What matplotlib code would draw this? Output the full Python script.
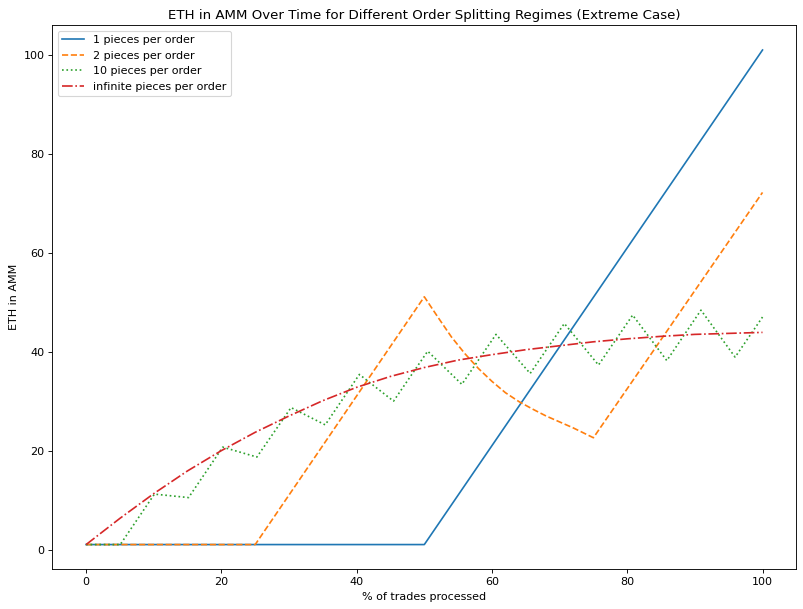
import matplotlib
matplotlib.use("Agg")
import matplotlib.pyplot as plt

# % of trades processed vs ETH held by the AMM
x_one = [0, 50, 100]
eth_one = [1, 1, 101]

x_two = [0, 25, 50, 52, 54, 56, 58, 60, 62, 64, 66, 68, 70, 72, 75, 100]
eth_two = [1, 1, 51.1, 47.0, 43.0, 39.6, 36.6, 34.0, 31.7, 29.9, 28.4, 27.0, 25.8, 24.6, 22.6, 72.2]

x_ten = [0, 5.05, 10.1, 15.15, 20.2, 25.25, 30.3, 35.35, 40.4, 45.45, 50.5,
         55.55, 60.6, 65.65, 70.7, 75.75, 80.8, 85.85, 90.9, 95.95, 100]
eth_ten = [1, 1, 11.2, 10.5, 20.7, 18.7, 28.7, 25.2, 35.4, 30.0, 40.1,
           33.4, 43.5, 35.6, 45.7, 37.3, 47.4, 38.2, 48.4, 38.9, 47.0]

x_inf = [0, 5, 10, 15, 20, 25, 30, 35, 40, 45, 50, 55, 60, 65, 70, 75, 80, 85, 90, 95, 100]
eth_inf = [1, 6.3, 11.3, 15.9, 20.0, 23.7, 27.0, 30.1, 32.8, 35.0, 36.8,
           38.3, 39.4, 40.4, 41.2, 42.0, 42.6, 43.1, 43.5, 43.7, 43.9]

fig, ax = plt.subplots(figsize=(803 / 80, 609 / 80), dpi=80)
ax.plot(x_one, eth_one, "-", label="1 pieces per order")
ax.plot(x_two, eth_two, "--", label="2 pieces per order")
ax.plot(x_ten, eth_ten, ":", label="10 pieces per order")
ax.plot(x_inf, eth_inf, "-.", label="infinite pieces per order")

ax.set_title("ETH in AMM Over Time for Different Order Splitting Regimes (Extreme Case)")
ax.set_xlabel("% of trades processed")
ax.set_ylabel("ETH in AMM")
ax.legend(loc="upper left")

plt.subplots_adjust(left=0.0651, right=0.9917, top=0.9585, bottom=0.0652)
plt.savefig("out.png", dpi=80)
